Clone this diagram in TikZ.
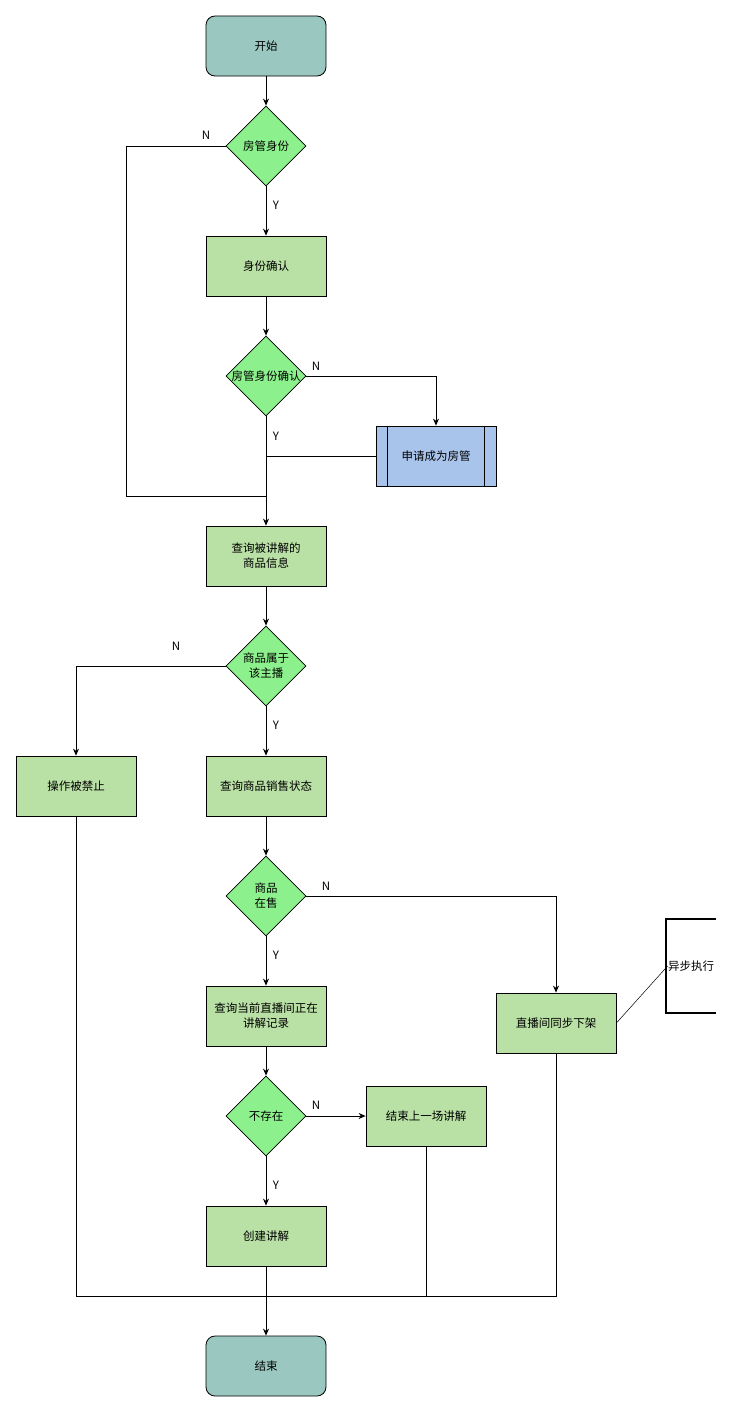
\documentclass[tikz,border=0pt]{standalone}
\usepackage{fontspec}
\setmainfont{Noto Sans CJK SC}
\usepackage{tikz}
\usetikzlibrary{shapes.geometric,arrows.meta,positioning,calc}
\definecolor{termfill}{HTML}{9AC7BF}
\definecolor{boxfill}{HTML}{B9E0A5}
\definecolor{choicefill}{HTML}{8CF08C}
\definecolor{applyfill}{HTML}{A9C4EB}

\begin{document}
\begin{tikzpicture}[x=1pt,y=-1pt,line width=0.8pt,
    font=\fontsize{11.5}{15}\selectfont,
    terminal/.style={draw, fill=termfill, rounded corners=9pt, minimum width=120pt, minimum height=60pt},
    stepbox/.style={draw, fill=boxfill, minimum width=120pt, minimum height=60pt, align=center, inner sep=2pt},
    choice/.style={draw, diamond, fill=choicefill, minimum width=80pt, minimum height=80pt, inner sep=0pt},
    flow/.style={-{Stealth[length=7pt,width=6pt]}}]
    \useasboundingbox (0,0) rectangle (734,1413);

    % main column
    \node[terminal] (start) at (266,46) {开始};
    \node[choice, label={center:房管身份}] (who) at (266,146) {};
    \node[stepbox] (confirm) at (266,266) {身份确认};
    \node[choice, label={center:房管身份确认}] (isadmin) at (266,376) {};
    \node[draw, fill=applyfill, minimum width=120pt, minimum height=60pt] (apply) at (436,456) {申请成为房管};
    \draw ($(apply.north west)+(12,0)$) -- ($(apply.south west)+(12,0)$);
    \draw ($(apply.north east)+(-12,0)$) -- ($(apply.south east)+(-12,0)$);
    \node[stepbox] (query) at (266,556) {查询被讲解的\\商品信息};
    \node[choice, label={[align=center]center:商品属于\\该主播}] (owner) at (266,666) {};
    \node[stepbox] (forbid) at (76,786) {操作被禁止};
    \node[stepbox] (status) at (266,786) {查询商品销售状态};
    \node[choice, label={[align=center]center:商品\\在售}] (onsale) at (266,896) {};
    \node[stepbox] (record) at (266,1016) {查询当前直播间正在\\讲解记录};
    \node[stepbox] (offshelf) at (556,1023) {直播间同步下架};
    \node[choice, label={center:不存在}] (none) at (266,1116) {};
    \node[stepbox] (endprev) at (426,1116) {结束上一场讲解};
    \node[stepbox] (create) at (266,1236) {创建讲解};
    \node[terminal] (end) at (266,1366) {结束};

    % note
    \node[inner sep=0pt] (note) at (691,966) {异步执行};
    \draw[line width=1.8pt] (716,919) -- (666,919) -- (666,1013) -- (716,1013);
    \draw[line width=0.5pt] (offshelf.east) -- (note.west);

    % yes branches
    \draw[flow] (start) -- (who);
    \draw[flow] (who) -- (confirm);
    \node at (276,205) {Y};
    \draw[flow] (confirm) -- (isadmin);
    \draw[flow] (isadmin) -- (query);
    \node at (276,436) {Y};
    \draw[flow] (query) -- (owner);
    \draw[flow] (owner) -- (status);
    \node at (276,725) {Y};
    \draw[flow] (status) -- (onsale);
    \draw[flow] (onsale) -- (record);
    \node at (276,955) {Y};
    \draw[flow] (record) -- (none);
    \draw[flow] (none) -- (create);
    \node at (276,1185) {Y};
    \draw[flow] (create) -- (end);

    % no branches
    \coordinate (join1) at (266,496);
    \draw (who.west) -- (126,146) |- (join1);
    \node at (206,135) {N};
    \draw[flow] (isadmin.east) -| (apply.north);
    \node at (316,366) {N};
    \draw (apply.west) -- (apply.west -| isadmin);
    \draw[flow] (owner.west) -| (forbid.north);
    \node at (176,646) {N};
    \draw[flow] (onsale.east) -| (offshelf.north);
    \node at (326,886) {N};
    \draw[flow] (none) -- (endprev);
    \node at (316,1105) {N};

    % merge to end
    \coordinate (join2) at (76,1296);
    \draw (forbid.south) -- (join2) -- (join2 -| offshelf) -- (offshelf.south);
    \draw (endprev.south) -- (endprev.south |- join2);
\end{tikzpicture}
\end{document}
